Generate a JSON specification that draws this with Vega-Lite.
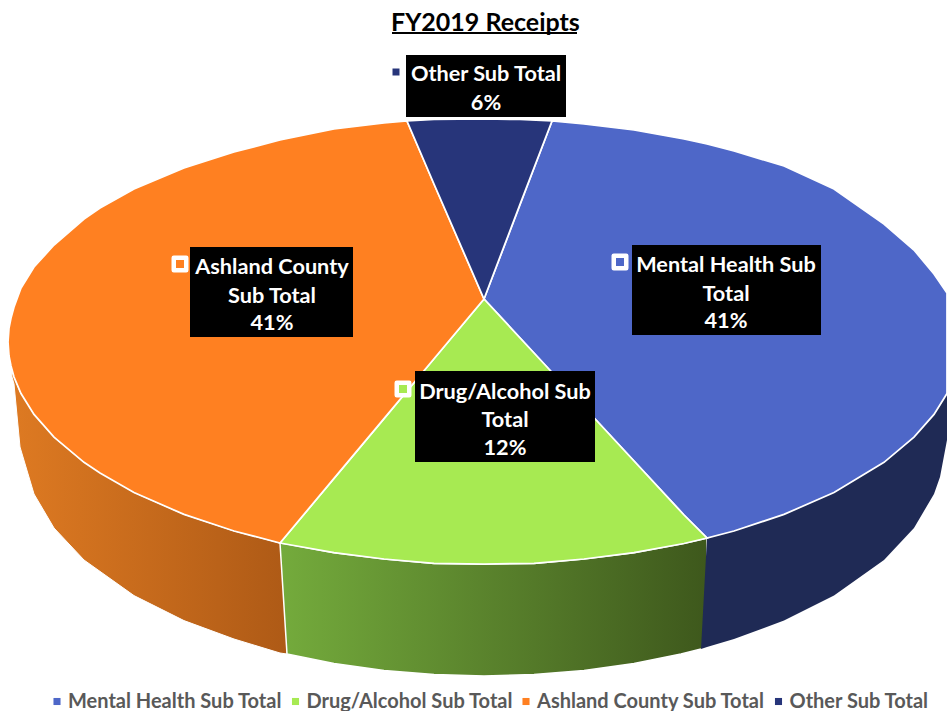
{
"$schema":"https://vega.github.io/schema/vega-lite/v6.json",
"width":947,"height":711,"padding":0,"autosize":{"type":"none"},
"background":"white",
"title":{"text":"FY2019 Receipts","font":"Lato","fontWeight":"bold","fontSize":25,"color":"#000000","anchor":"start","frame":"group","dx":391,"offset":-36},
"view":{"stroke":null},
"datasets":{
"top":[
{"sector":"Mental Health Sub Total","x":484,"y":299,"y2":299},
{"sector":"Mental Health Sub Total","x":552,"y":121,"y2":372.5},
{"sector":"Mental Health Sub Total","x":584,"y":124,"y2":407},
{"sector":"Mental Health Sub Total","x":634,"y":130,"y2":461},
{"sector":"Mental Health Sub Total","x":684,"y":139,"y2":515},
{"sector":"Mental Health Sub Total","x":707,"y":144,"y2":538},
{"sector":"Mental Health Sub Total","x":734,"y":151,"y2":531},
{"sector":"Mental Health Sub Total","x":784,"y":166,"y2":514.4},
{"sector":"Mental Health Sub Total","x":834,"y":189,"y2":492.5},
{"sector":"Mental Health Sub Total","x":884,"y":224,"y2":462.3},
{"sector":"Mental Health Sub Total","x":914,"y":250,"y2":437.2},
{"sector":"Mental Health Sub Total","x":934,"y":274,"y2":414.4},
{"sector":"Mental Health Sub Total","x":947,"y":293,"y2":393.5},
{"sector":"Drug/Alcohol Sub Total","x":280,"y":543,"y2":543},
{"sector":"Drug/Alcohol Sub Total","x":334,"y":478.4,"y2":552.7},
{"sector":"Drug/Alcohol Sub Total","x":384,"y":418.6,"y2":559},
{"sector":"Drug/Alcohol Sub Total","x":434,"y":358.8,"y2":563.4},
{"sector":"Drug/Alcohol Sub Total","x":484,"y":299,"y2":564},
{"sector":"Drug/Alcohol Sub Total","x":534,"y":353,"y2":563.4},
{"sector":"Drug/Alcohol Sub Total","x":584,"y":407,"y2":559},
{"sector":"Drug/Alcohol Sub Total","x":634,"y":461,"y2":552.7},
{"sector":"Drug/Alcohol Sub Total","x":684,"y":515,"y2":543.5},
{"sector":"Drug/Alcohol Sub Total","x":707,"y":538,"y2":538},
{"sector":"Ashland County Sub Total","x":8,"y":342,"y2":342},
{"sector":"Ashland County Sub Total","x":9,"y":328,"y2":356},
{"sector":"Ashland County Sub Total","x":11,"y":318,"y2":366},
{"sector":"Ashland County Sub Total","x":14,"y":307,"y2":377},
{"sector":"Ashland County Sub Total","x":21,"y":288,"y2":393.5},
{"sector":"Ashland County Sub Total","x":34,"y":267,"y2":414.4},
{"sector":"Ashland County Sub Total","x":54,"y":245,"y2":437.2},
{"sector":"Ashland County Sub Total","x":84,"y":219,"y2":462.3},
{"sector":"Ashland County Sub Total","x":100,"y":208,"y2":473},
{"sector":"Ashland County Sub Total","x":134,"y":189,"y2":492.5},
{"sector":"Ashland County Sub Total","x":184,"y":168,"y2":514.4},
{"sector":"Ashland County Sub Total","x":234,"y":152,"y2":531},
{"sector":"Ashland County Sub Total","x":280,"y":140,"y2":543},
{"sector":"Ashland County Sub Total","x":334,"y":129,"y2":478.4},
{"sector":"Ashland County Sub Total","x":384,"y":123,"y2":418.6},
{"sector":"Ashland County Sub Total","x":407,"y":121,"y2":391},
{"sector":"Ashland County Sub Total","x":434,"y":184,"y2":358.8},
{"sector":"Ashland County Sub Total","x":484,"y":299,"y2":299},
{"sector":"Other Sub Total","x":407,"y":121,"y2":121},
{"sector":"Other Sub Total","x":434,"y":119.5,"y2":184},
{"sector":"Other Sub Total","x":484,"y":119,"y2":299},
{"sector":"Other Sub Total","x":520,"y":119.5,"y2":204.3},
{"sector":"Other Sub Total","x":552,"y":121,"y2":121}
],
"wallOrange":[
{"x":11,"y":367,"y2":367},{"x":12,"y":371,"y2":377},{"x":14,"y":377,"y2":384},{"x":20,"y":391.5,"y2":447},
{"x":34,"y":414.4,"y2":494},{"x":54,"y":437.2,"y2":528},{"x":84,"y":462.3,"y2":560},{"x":134,"y":492.5,"y2":595.6},
{"x":184,"y":514.4,"y2":620.6},{"x":234,"y":531,"y2":639},{"x":280,"y":543,"y2":653},{"x":287,"y":544,"y2":654}
],
"wallGreen":[
{"x":280,"y":543,"y2":543},{"x":287,"y":544,"y2":654},{"x":334,"y":552.7,"y2":663.5},{"x":384,"y":559,"y2":670.5},
{"x":434,"y":563.4,"y2":674.6},{"x":484,"y":564,"y2":676},{"x":534,"y":563.4,"y2":674.6},{"x":584,"y":559,"y2":670.5},
{"x":634,"y":552.7,"y2":663.5},{"x":681,"y":544,"y2":654},{"x":701,"y":539.6,"y2":649},{"x":707,"y":538,"y2":647}
],
"wallNavy":[
{"x":701,"y":649,"y2":649},{"x":707,"y":538,"y2":647},{"x":734,"y":531,"y2":639},{"x":784,"y":514.4,"y2":620.6},
{"x":834,"y":492.5,"y2":595.6},{"x":884,"y":462.3,"y2":560},{"x":914,"y":437.2,"y2":528},{"x":934,"y":414.4,"y2":494},
{"x":940,"y":405.6,"y2":477},{"x":947,"y":393.5,"y2":440}
],
"boxes":[
{"sector":"Other Sub Total","share":6,"x":406,"x2":566,"y":55,"y2":117,"mx":396,"my":72},
{"sector":"Mental Health Sub Total","share":41,"x":632,"x2":821,"y":245,"y2":335,"mx":620,"my":262},
{"sector":"Ashland County Sub Total","share":41,"x":190,"x2":353,"y":247,"y2":337,"mx":180,"my":264},
{"sector":"Drug/Alcohol Sub Total","share":12,"x":415,"x2":595,"y":371,"y2":462,"mx":403,"my":389}
],
"lines":[
{"t":"Other Sub Total","x":486,"y":74},{"t":"6%","x":486,"y":103},
{"t":"Mental Health Sub","x":726,"y":265},{"t":"Total","x":726,"y":294},{"t":"41%","x":726,"y":321},
{"t":"Ashland County","x":272,"y":267},{"t":"Sub Total","x":272,"y":296},{"t":"41%","x":272,"y":323},
{"t":"Drug/Alcohol Sub","x":505,"y":392},{"t":"Total","x":505,"y":420},{"t":"12%","x":505,"y":448}
],
"underline":[{"x":392,"x2":577,"y":33}]
},
"encoding":{
"x":{"field":"x","type":"quantitative","axis":null,"scale":{"domain":[0,947],"nice":false,"zero":false}},
"y":{"field":"y","type":"quantitative","axis":null,"stack":null,"scale":{"domain":[711,0],"nice":false,"zero":false}}
},
"layer":[
{"data":{"name":"underline"},"mark":{"type":"rule","color":"#000000","strokeWidth":2},"encoding":{"x2":{"field":"x2"}}},
{"data":{"name":"wallOrange"},"mark":{"type":"area","stroke":"white","strokeWidth":1,"color":{"gradient":"linear","x1":0,"y1":0,"x2":1,"y2":0,"stops":[{"offset":0,"color":"#de7a22"},{"offset":1,"color":"#ae5a16"}]}},"encoding":{"y2":{"field":"y2"}}},
{"data":{"name":"wallGreen"},"mark":{"type":"area","stroke":"white","strokeWidth":1.5,"color":{"gradient":"linear","x1":0,"y1":0,"x2":1,"y2":0,"stops":[{"offset":0,"color":"#74ab3c"},{"offset":1,"color":"#3e581c"}]}},"encoding":{"y2":{"field":"y2"}}},
{"data":{"name":"wallNavy"},"mark":{"type":"area","color":"#1f2a55"},"encoding":{"y2":{"field":"y2"}}},
{"data":{"name":"top"},"mark":{"type":"area","stroke":"#ffffff","strokeWidth":1.75},
 "encoding":{"y2":{"field":"y2"},
  "color":{"field":"sector","type":"nominal","sort":null,
   "scale":{"domain":["Mental Health Sub Total","Drug/Alcohol Sub Total","Ashland County Sub Total","Other Sub Total"],"range":["#4e67c8","#a7ea52","#ff8021","#27357a"]},
   "legend":{"orient":"none","legendX":47,"legendY":691.5,"direction":"horizontal","columns":4,"title":null,"symbolType":"square","symbolSize":50,"symbolStrokeWidth":0,"labelFont":"Lato","labelFontWeight":"bold","labelFontSize":20,"labelColor":"#595959","labelLimit":0,"columnPadding":2.5,"labelOffset":1}}}},
{"data":{"name":"boxes"},"mark":{"type":"rect","color":"#000000"},"encoding":{"x2":{"field":"x2"},"y2":{"field":"y2"}}},
{"data":{"name":"boxes"},"mark":{"type":"point","shape":"square","filled":true,"size":156,"stroke":"white","strokeWidth":4.5,"strokeJoin":"round","opacity":1},
 "transform":[{"filter":"datum.share != 6"}],
 "encoding":{"x":{"field":"mx"},"y":{"field":"my"},"fill":{"field":"sector","type":"nominal","legend":null,"scale":{"domain":["Mental Health Sub Total","Drug/Alcohol Sub Total","Ashland County Sub Total","Other Sub Total"],"range":["#4e67c8","#a7ea52","#ff8021","#27357a"]}}}},
{"data":{"name":"boxes"},"mark":{"type":"point","shape":"square","filled":true,"size":49,"color":"#27357a","opacity":1},
 "transform":[{"filter":"datum.share == 6"}],
 "encoding":{"x":{"field":"mx"},"y":{"field":"my"}}},
{"data":{"name":"lines"},"mark":{"type":"text","font":"Lato","fontWeight":"bold","fontSize":21.7,"color":"#ffffff","baseline":"middle","align":"center"},"encoding":{"text":{"field":"t"}}}
]
}
